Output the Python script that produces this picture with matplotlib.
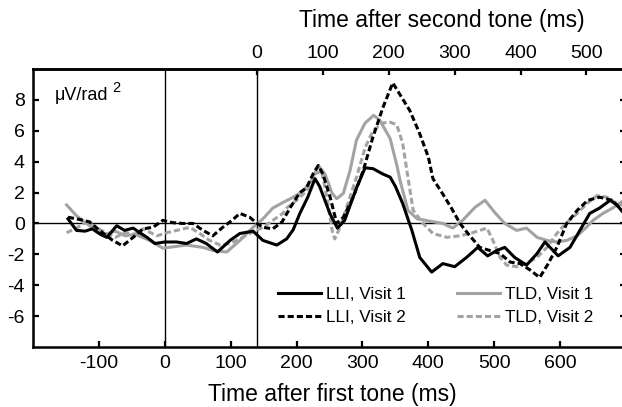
import matplotlib
matplotlib.use("Agg")
import matplotlib.pyplot as plt

plt.rcParams['font.family'] = ['Liberation Sans', 'DejaVu Sans']
plt.rcParams['axes.unicode_minus'] = False

# ---- data ----
lli1_t = [-147, -134, -121, -110, -98, -88, -73, -61, -48, -38, -27, -15, 0, 18, 33, 48, 63, 80, 99, 114,
          134, 149, 170, 185, 195, 205, 217, 228, 235, 251, 262, 273, 291, 304, 316, 331, 342, 350, 361, 375,
          387, 405, 422, 440, 458, 475, 490, 504, 516, 531, 549, 565, 577, 597, 615, 630, 645, 660, 676, 686, 700]
lli1_v = [0.3, -0.45, -0.5, -0.35, -0.7, -0.9, -0.15, -0.45, -0.3, -0.6, -0.9, -1.3, -1.2, -1.2, -1.3, -1.0, -1.3, -1.85, -1.1, -0.65,
          -0.5, -1.1, -1.4, -1.0, -0.4, 0.65, 1.7, 2.9, 2.4, 0.6, -0.3, 0.2, 2.3, 3.6, 3.55, 3.2, 3.0, 2.4, 1.3, -0.45,
          -2.2, -3.15, -2.6, -2.8, -2.2, -1.55, -2.1, -1.75, -1.55, -2.2, -2.7, -1.95, -1.2, -2.1, -1.55, -0.45, 0.65, 1.0, 1.5, 1.2, 0.5]

lli2_t = [-147, -134, -114, -99, -79, -64, -48, -33, -18, -3, 12, 27, 43, 58, 73, 88, 102, 114, 129, 140,
          149, 164, 178, 190, 205, 215, 225, 233, 240, 251, 261, 271, 286, 301, 316, 331, 346, 372, 387, 400,
          407, 422, 435, 448, 463, 478, 493, 509, 524, 539, 554, 569, 582, 595, 610, 626, 642, 660, 679, 700]
lli2_v = [0.4, 0.3, 0.1, -0.45, -1.1, -1.45, -0.9, -0.35, -0.25, 0.2, 0.05, 0.0, 0.0, -0.45, -0.8, -0.25, 0.2, 0.65, 0.4, 0.0,
          -0.25, -0.35, 0.1, 1.0, 2.0, 2.3, 3.2, 3.75, 3.2, 1.7, 0.0, 0.4, 1.7, 3.4, 5.6, 7.5, 9.1, 7.3, 5.8, 4.3,
          2.9, 1.9, 1.0, 0.0, -0.8, -1.55, -1.75, -1.95, -2.5, -2.6, -3.0, -3.5, -2.6, -1.55, 0.0, 0.85, 1.5, 1.7, 1.5, 0.6]

tld1_t = [-149, -134, -119, -104, -90, -75, -60, -45, -23, -3, 15, 33, 58, 73, 94, 114, 134, 149, 164, 179,
          195, 210, 223, 233, 243, 254, 261, 271, 281, 291, 304, 317, 326, 342, 352, 357, 369, 383, 402, 422,
          437, 452, 471, 486, 501, 516, 534, 549, 565, 580, 595, 610, 626, 641, 650, 665, 680, 700]
tld1_v = [1.2, 0.5, 0.0, -0.45, -0.7, -0.5, -0.8, -0.7, -1.1, -1.6, -1.5, -1.4, -1.55, -1.75, -1.85, -1.1, -0.25, 0.3, 1.0, 1.35,
          1.7, 2.1, 2.8, 3.75, 3.2, 1.95, 1.6, 1.95, 3.4, 5.4, 6.5, 7.0, 6.7, 5.5, 3.8, 2.8, 0.85, 0.3, 0.15, 0.0,
          -0.3, 0.2, 1.05, 1.5, 0.7, 0.0, -0.45, -0.3, -0.9, -1.1, -1.2, -1.1, -0.8, -0.2, 0.2, 0.65, 1.0, 1.6]

tld2_t = [-149, -134, -119, -104, -90, -75, -60, -45, -33, -12, 3, 18, 38, 53, 68, 84, 99, 114, 129, 149,
          164, 179, 185, 200, 215, 228, 238, 246, 254, 258, 266, 278, 291, 304, 316, 330, 342, 352, 361, 369,
          377, 392, 407, 428, 448, 463, 478, 489, 498, 509, 519, 534, 549, 565, 580, 595, 610, 626, 641, 656,
          671, 686, 700]
tld2_v = [-0.6, -0.3, 0.1, -0.25, -0.6, -0.9, -0.6, -0.7, -0.35, -0.8, -0.6, -0.45, -0.25, -0.65, -1.1, -1.4, -1.3, -1.0, -0.65, -0.25,
          0.2, 0.65, 1.0, 1.5, 2.1, 3.2, 3.4, 1.7, -0.45, -1.0, -0.25, 1.3, 3.0, 4.9, 6.0, 6.5, 6.55, 6.4, 5.2, 3.0,
          0.85, 0.0, -0.65, -0.9, -0.8, -0.65, -0.45, -0.3, -1.1, -2.2, -2.7, -2.8, -2.6, -2.2, -1.55, -0.65, 0.05, 0.65, 1.3, 1.8,
          1.7, 1.3, 1.1]

labels = ["LLI, Visit 1", "LLI, Visit 2", "TLD, Visit 1", "TLD, Visit 2"]
bottom_ticks = [-100, 0, 100, 200, 300, 400, 500, 600]
top_ticks = [0, 100, 200, 300, 400, 500]
y_ticks = [-6, -4, -2, 0, 2, 4, 6, 8]
second_tone = 140

# ---- figure ----
W, H = 622, 407
fig = plt.figure(figsize=(W / 100, H / 100), dpi=100)
ax = fig.add_axes([33 / W, (H - 347) / H, 593 / W, 278 / H])

gray = '#a3a3a3'
lw = 2.2
dash = (0, (2.0, 1.0))
ax.plot(lli1_t, lli1_v, color='black', lw=lw, label=labels[0], zorder=4)
ax.plot(lli2_t, lli2_v, color='black', lw=lw, ls=dash, label=labels[1], zorder=5)
ax.plot(tld1_t, tld1_v, color=gray, lw=lw, label=labels[2], zorder=2)
ax.plot(tld2_t, tld2_v, color=gray, lw=lw, ls=dash, label=labels[3], zorder=3)

ax.axhline(0, color='black', lw=1.0, zorder=1)
ax.axvline(0, color='black', lw=1.0, zorder=1)
ax.axvline(second_tone, color='black', lw=1.0, zorder=1)

ax.set_xlim(-200, 700)
ax.set_ylim(-8, 10)
ax.set_xticks(bottom_ticks)
ax.set_yticks(y_ticks)
for s in ['left', 'bottom', 'top', 'right']:
    ax.spines[s].set_linewidth(1.8)
ax.tick_params(direction='in', length=4, width=1.6, labelsize=14, pad=6, right=True, labelright=False)

sec = ax.secondary_xaxis('top', functions=(lambda x: x - second_tone, lambda x: x + second_tone))
sec.set_xticks(top_ticks)
sec.spines['top'].set_linewidth(1.8)
sec.tick_params(direction='in', length=4, width=1.6, labelsize=14, pad=5)

fig.text(442 / W, 1 - 20 / H, "Time after second tone (ms)", ha='center', va='center', fontsize=16.5)
fig.text(332 / W, 1 - 395 / H, "Time after first tone (ms)", ha='center', va='center', fontsize=16.5)

fig.text(55 / W, 1 - 95 / H, "μV/rad", ha='left', va='center', fontsize=13)
fig.text(112 / W, 1 - 88 / H, "2", ha='left', va='center', fontsize=10.5)

leg = ax.legend(ncol=2, frameon=False, fontsize=12.3, handlelength=2.5, handletextpad=0.3,
                columnspacing=3.0, labelspacing=0.45, borderpad=0, borderaxespad=0,
                loc='upper left', bbox_to_anchor=(278 / W, 1 - 287 / H), bbox_transform=fig.transFigure)

fig.savefig("out.png", dpi=100)
